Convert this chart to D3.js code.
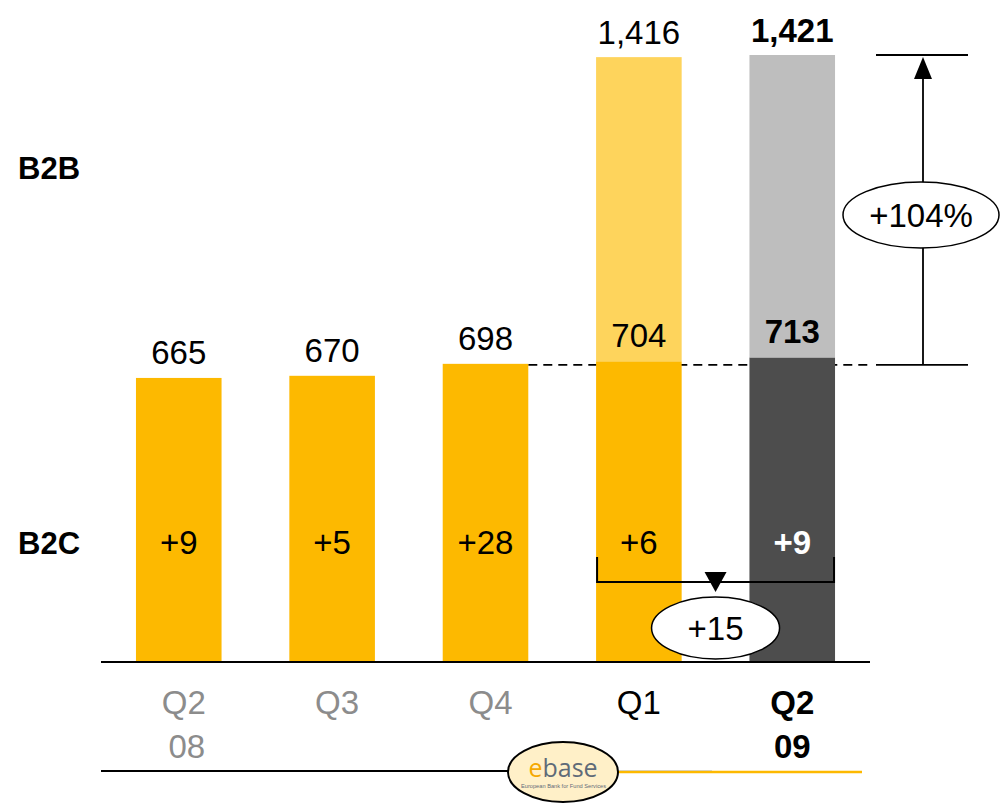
<!DOCTYPE html>
<html>
<head>
<meta charset="utf-8">
<script src="https://cdn.jsdelivr.net/npm/d3@7/dist/d3.min.js"></script>
<style>
  html, body { margin: 0; padding: 0; background: #fff; }
  svg { display: block; font-family: "Liberation Sans", Arial, Helvetica, sans-serif; }
</style>
</head>
<body>
<svg id="chart" width="1001" height="803"></svg>
<script>
// Quarterly figures (Q2 2008 – Q2 2009)
const quarters   = ["Q2", "Q3", "Q4", "Q1", "Q2"];
const years      = ["08", "", "", "", "09"];
const b2c        = [665, 670, 698, 704, 713];
const b2b        = [0, 0, 0, 712, 708];
const totals     = [null, null, null, 1416, 1421];
const deltas     = ["+9", "+5", "+28", "+6", "+9"];
const b2cFill    = ["#FDB900", "#FDB900", "#FDB900", "#FDB900", "#4D4D4D"];
const b2bFill    = ["none", "none", "none", "#FED45C", "#BEBEBE"];
const labelColor = ["#8C8C8C", "#8C8C8C", "#8C8C8C", "#000", "#000"];
const labelBold  = [false, false, false, false, true];
const growthPct  = "+104%";
const growthSum  = "+15";

const svg = d3.select("#chart");
const FS = 33;

const x = d3.scaleBand()
  .domain(d3.range(quarters.length))
  .range([101, 870])
  .paddingInner(0.442)
  .paddingOuter(0.228);

const yMax = d3.max(b2c.map((v, i) => v + b2b[i]));
const y = d3.scaleLinear().domain([0, yMax]).range([662, 55]);

// dashed reference at the Q4 level, behind the bars
svg.append("line")
  .attr("x1", x(2) + x.bandwidth()).attr("x2", 870)
  .attr("y1", y(b2c[2]) + 1).attr("y2", y(b2c[2]) + 1)
  .attr("stroke", "#000").attr("stroke-width", 1.8)
  .attr("stroke-dasharray", "9,6");

// B2C segments
svg.selectAll("rect.b2c").data(b2c).join("rect")
  .attr("class", "b2c")
  .attr("x", (d, i) => x(i)).attr("width", x.bandwidth())
  .attr("y", d => y(d)).attr("height", d => y(0) - y(d))
  .attr("fill", (d, i) => b2cFill[i]);

// B2B segments stacked on top
svg.selectAll("rect.b2b").data(b2b).join("rect")
  .attr("class", "b2b")
  .attr("x", (d, i) => x(i)).attr("width", x.bandwidth())
  .attr("y", (d, i) => y(b2c[i] + d)).attr("height", (d, i) => y(b2c[i]) - y(b2c[i] + d))
  .attr("fill", (d, i) => b2bFill[i]);

// axis baseline
svg.append("line")
  .attr("x1", 101).attr("x2", 870).attr("y1", y(0)).attr("y2", y(0))
  .attr("stroke", "#000").attr("stroke-width", 2);

const cx = i => x(i) + x.bandwidth() / 2;

// B2C value labels
svg.selectAll("text.b2cval").data(b2c).join("text")
  .attr("class", "b2cval")
  .attr("x", (d, i) => cx(i)).attr("y", d => y(d) - 14)
  .attr("text-anchor", "middle").attr("font-size", FS)
  .attr("font-weight", (d, i) => labelBold[i] ? "bold" : "normal")
  .text(d => d3.format(",")(d));

// total labels
svg.selectAll("text.total").data(totals).join("text")
  .attr("class", "total")
  .attr("x", (d, i) => cx(i)).attr("y", (d, i) => d == null ? 0 : y(d) - 13)
  .attr("text-anchor", "middle").attr("font-size", FS)
  .attr("font-weight", (d, i) => labelBold[i] ? "bold" : "normal")
  .text(d => d == null ? "" : d3.format(",")(d));

// change labels inside B2C bars
svg.selectAll("text.delta").data(deltas).join("text")
  .attr("class", "delta")
  .attr("x", (d, i) => cx(i)).attr("y", 554)
  .attr("text-anchor", "middle").attr("font-size", FS)
  .attr("font-weight", (d, i) => labelBold[i] ? "bold" : "normal")
  .attr("fill", (d, i) => labelBold[i] ? "#fff" : "#000")
  .text(d => d);

// category labels
svg.selectAll("text.q").data(quarters).join("text")
  .attr("class", "q")
  .attr("x", (d, i) => cx(i) + (i < 3 ? 5 : 0)).attr("y", 714)
  .attr("text-anchor", "middle").attr("font-size", FS)
  .attr("font-weight", (d, i) => labelBold[i] ? "bold" : "normal")
  .attr("fill", (d, i) => labelColor[i])
  .text(d => d);
svg.selectAll("text.yr").data(years).join("text")
  .attr("class", "yr")
  .attr("x", (d, i) => cx(i) + (i < 3 ? 8 : 0)).attr("y", 758)
  .attr("text-anchor", "middle").attr("font-size", FS)
  .attr("font-weight", (d, i) => labelBold[i] ? "bold" : "normal")
  .attr("fill", (d, i) => labelColor[i])
  .text(d => d);

// segment names
svg.append("text").attr("x", 18).attr("y", 179)
  .attr("font-size", 31).attr("font-weight", "bold").text("B2B");
svg.append("text").attr("x", 18).attr("y", 554)
  .attr("font-size", 31).attr("font-weight", "bold").text("B2C");

// growth arrow on the right: from Q2 09 B2C level to Q2 09 total
const ax = 923, yLow = y(b2c[2]) + 1, yHigh = y(b2c[4] + b2b[4]);
svg.append("line").attr("x1", 876).attr("x2", 968).attr("y1", yHigh).attr("y2", yHigh)
  .attr("stroke", "#000").attr("stroke-width", 1.8);
svg.append("line").attr("x1", 876).attr("x2", 968).attr("y1", yLow).attr("y2", yLow)
  .attr("stroke", "#000").attr("stroke-width", 1.8);
svg.append("line").attr("x1", ax).attr("x2", ax).attr("y1", yLow).attr("y2", yHigh + 20)
  .attr("stroke", "#000").attr("stroke-width", 1.8);
svg.append("path")
  .attr("d", `M${ax},${yHigh + 2} L${ax - 9},${yHigh + 24} L${ax + 9},${yHigh + 24} Z`)
  .attr("fill", "#000");
svg.append("ellipse").attr("cx", 921).attr("cy", 215).attr("rx", 78).attr("ry", 33)
  .attr("fill", "#fff").attr("stroke", "#000").attr("stroke-width", 1.5);
svg.append("text").attr("x", 921).attr("y", 227).attr("text-anchor", "middle")
  .attr("font-size", FS).text(growthPct);

// bracket under Q1 and Q2 09 summing the changes
const bx1 = x(3) + 1, bx2 = x(4) + x.bandwidth() - 1, by = 582;
svg.append("path")
  .attr("d", `M${bx1},557 L${bx1},${by} L${bx2},${by} L${bx2},557`)
  .attr("fill", "none").attr("stroke", "#000").attr("stroke-width", 2);
const mx = (bx1 + bx2) / 2;
svg.append("path")
  .attr("d", `M${mx - 11},572 L${mx + 11},572 L${mx},592 Z`).attr("fill", "#000");
svg.append("ellipse").attr("cx", mx).attr("cy", 628).attr("rx", 64).attr("ry", 31)
  .attr("fill", "#fff").attr("stroke", "#000").attr("stroke-width", 1.5);
svg.append("text").attr("x", mx).attr("y", 640).attr("text-anchor", "middle")
  .attr("font-size", FS).text(growthSum);

// footer rule with logo
svg.append("line").attr("x1", 101).attr("x2", 510).attr("y1", 771).attr("y2", 771)
  .attr("stroke", "#000").attr("stroke-width", 2);
svg.append("line").attr("x1", 615).attr("x2", 862).attr("y1", 772).attr("y2", 772)
  .attr("stroke", "#FDB900").attr("stroke-width", 2.5);
svg.append("line").attr("x1", 615).attr("x2", 712).attr("y1", 770.5).attr("y2", 770.5)
  .attr("stroke", "#D8D0B8").attr("stroke-width", 1);
svg.append("ellipse").attr("cx", 563).attr("cy", 772).attr("rx", 55).attr("ry", 30)
  .attr("fill", "#FFF0C8").attr("stroke", "#000").attr("stroke-width", 2);
const logo = svg.append("text").attr("x", 563).attr("y", 777).attr("text-anchor", "middle")
  .attr("font-size", 25).attr("font-family", "'Open Sans', 'DejaVu Sans', sans-serif");
logo.append("tspan").attr("fill", "#F5A800").text("e");
logo.append("tspan").attr("fill", "#5F6B78").text("base");
svg.append("text").attr("x", 521).attr("y", 788)
  .attr("font-size", 6).attr("fill", "#5F6B78")
  .attr("textLength", 85).attr("lengthAdjust", "spacingAndGlyphs")
  .text("European Bank for Fund Services");
</script>
</body>
</html>
